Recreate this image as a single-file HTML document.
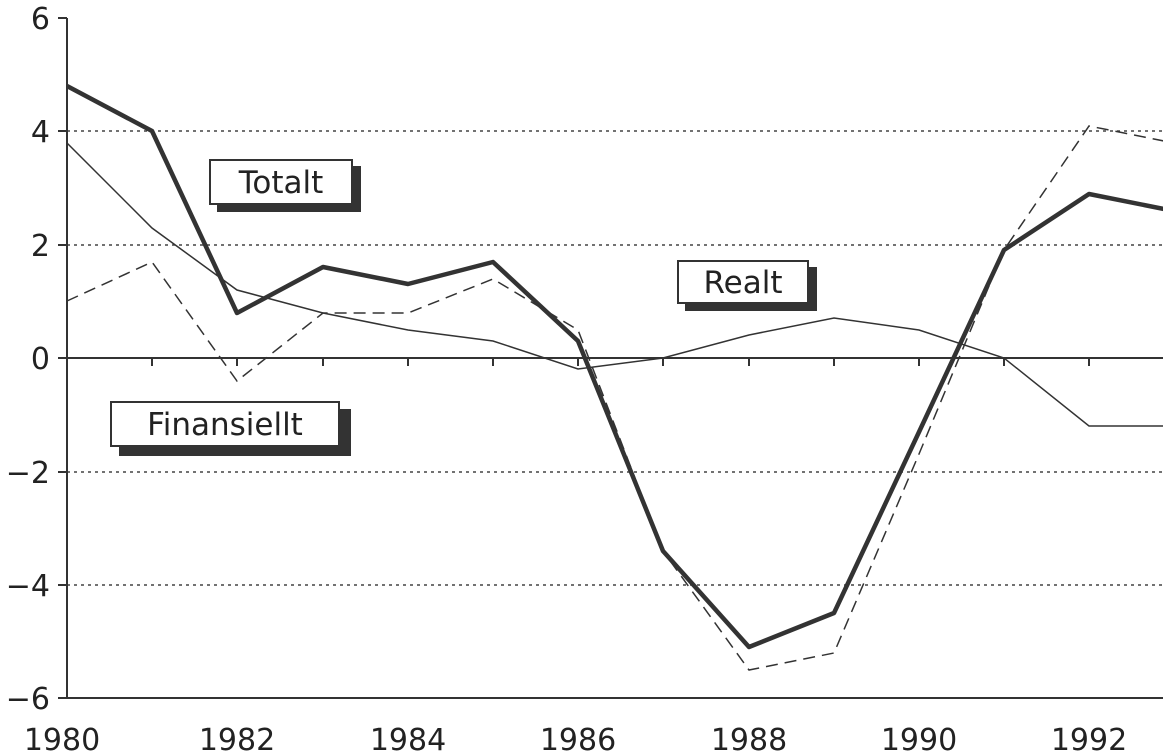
<!DOCTYPE html>
<html><head><style>body{margin:0;background:#fff}svg{display:block}</style></head><body>
<svg width="1163" height="755" viewBox="0 0 1163 755" xmlns="http://www.w3.org/2000/svg" font-family="DejaVu Sans, Liberation Sans, sans-serif">
<rect width="1163" height="755" fill="#fff"/>
<g stroke="#444" stroke-width="1.5" stroke-dasharray="3,4">
<line x1="67" y1="131" x2="1163" y2="131"/><line x1="67" y1="245" x2="1163" y2="245"/>
<line x1="67" y1="472" x2="1163" y2="472"/><line x1="67" y1="585" x2="1163" y2="585"/>
</g>
<g stroke="#333" stroke-width="2" fill="none">
<line x1="67" y1="18" x2="67" y2="698"/><line x1="67" y1="698" x2="1163" y2="698"/>
<line x1="58" y1="358" x2="1163" y2="358"/>
<line x1="58" y1="18" x2="67" y2="18"/><line x1="58" y1="131" x2="67" y2="131"/><line x1="58" y1="245" x2="67" y2="245"/><line x1="58" y1="472" x2="67" y2="472"/><line x1="58" y1="585" x2="67" y2="585"/><line x1="58" y1="698" x2="67" y2="698"/>
<path d="M152 358v8M237 358v8M323 358v8M408 358v8M493 358v8M578 358v8M663 358v8M749 358v8M834 358v8M919 358v8M1004 358v8M1089 358v8"/>
</g>
<g font-size="30" fill="#222" text-anchor="end">
<text x="50" y="29">6</text><text x="50" y="142">4</text><text x="50" y="256">2</text><text x="50" y="369">0</text>
<text x="50" y="483">−2</text><text x="50" y="596">−4</text><text x="50" y="709">−6</text>
</g>
<g font-size="30" fill="#222" text-anchor="middle">
<text x="62" y="750">1980</text><text x="237" y="750">1982</text><text x="408" y="750">1984</text><text x="578" y="750">1986</text><text x="749" y="750">1988</text><text x="919" y="750">1990</text><text x="1089" y="750">1992</text>
</g>
<polyline fill="none" stroke="#333" stroke-width="1.5" points="67,143 152,228 237,290 323,313 408,330 493,341 578,369 663,358 749,335 834,318 919,330 1004,358 1089,426 1174,426"/>
<polyline fill="none" stroke="#333" stroke-width="1.5" stroke-dasharray="12,7" points="67,301 152,262 237,381 323,313 408,313 493,279 578,330 663,551 749,670 834,653 919,454 1004,250 1089,126 1174,143"/>
<polyline fill="none" stroke="#333" stroke-width="4.5" stroke-linejoin="round" points="67,86 152,131 237,313 323,267 408,284 493,262 578,341 663,551 749,647 834,613 919,432 1004,250 1089,194 1174,211"/>
<g stroke="#333" stroke-width="2">
<rect x="218" y="167" width="142" height="44" fill="#333"/>
<rect x="210" y="160" width="142" height="44" fill="#fff"/>
<rect x="686" y="268" width="130" height="42" fill="#333"/>
<rect x="678" y="261" width="130" height="42" fill="#fff"/>
<rect x="120" y="410" width="230" height="45" fill="#333"/>
<rect x="111" y="402" width="228" height="44" fill="#fff"/>
</g>
<g font-size="31" fill="#222" text-anchor="middle">
<text x="281" y="193">Totalt</text><text x="743" y="293">Realt</text><text x="225" y="435">Finansiellt</text>
</g>
</svg>
</body></html>
